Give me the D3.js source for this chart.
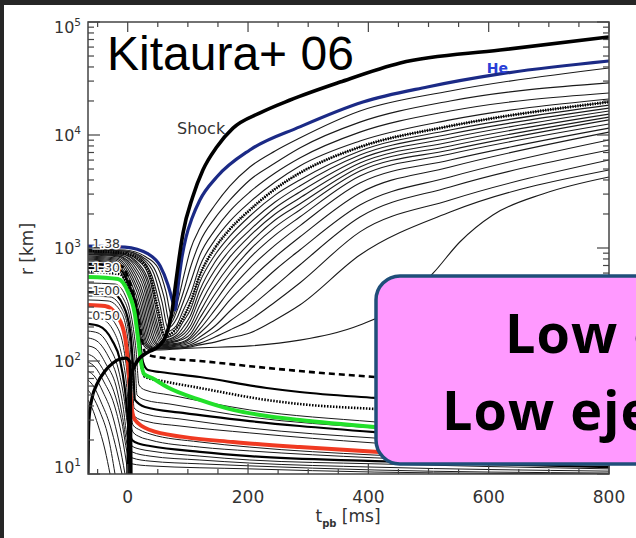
<!DOCTYPE html>
<html>
<head>
<meta charset="utf-8">
<script src="https://cdn.jsdelivr.net/npm/d3@7"></script>
<style>
  html, body { margin: 0; padding: 0; background: #262626; }
  svg { display: block; }
</style>
</head>
<body>
<svg id="chart" width="636" height="538"></svg>
<script>
// ---- data: t_pb [ms], r [km] ----
var shockTrack = [[0.5,10],[2,30],[4,68],[15,98],[34,120],[50,133],[64,170],[74,283],[79,452],[85,783],[92,1360],[108,2830],[125,4900],[148,7830],[175,11500],[220,15700],[270,20400],[353,29400],[453,43400],[619,56500],[800,73700]];
var heShell = [[-66,1040],[-4.5,1020],[34,885],[54,693],[67,471],[75,333],[79,283],[84,471],[90,816],[97,1250],[107,1840],[120,2660],[148,4250],[203,7370],[286,11800],[391,19600],[498,26600],[619,34700],[800,45200]];
var archTrack = [[-66,10],[-65.5,18],[-64.3,31],[-59.3,47],[-51,62.6],[-37.7,81.5],[-24.4,96],[-12.8,104],[-2.8,106],[3.8,98],[4.7,45],[5.5,10]];

// ejected shells: infall part, then radius at the common fanT times
var fanT = [104,120,145,170,203,245,286,386,536,800];
var ejectInfall = [
  [[-66,980],[-4.5,960],[30.4,833],[50.4,665],[63.7,408],[73.6,240],[83.6,347],[93.6,577]],
  [[-66,970],[-4.5,940],[27.1,816],[47,613],[60.3,369],[70.3,213],[83.6,294],[93.6,425]],
  [[-66,960],[-6.2,940],[25.4,799],[43.7,589],[57,333],[67,196],[81.9,240],[93.6,347]],
  [[-66,950],[-6.2,922],[23.8,783],[40.4,565],[53.7,307],[63.7,181],[80.3,204],[91.9,277]],
  [[-66,940],[-7.8,903],[22.1,767],[38.7,543],[50.4,283],[62,166],[78.6,188],[91.9,240]],
  [[-66,931],[-9.5,903],[20.4,752],[37.1,521],[48.7,261],[60.3,160],[80.3,177],[91.9,221]],
  [[-66,922],[-9.5,885],[18.8,722],[35.4,490],[47,240],[58.7,153],[81.9,170],[93.6,204]],
  [[-66,912],[-11.1,885],[17.1,707],[33.7,471],[45.4,226],[57,150],[83.6,166]],
  [[-66,903],[-12.8,867],[15.5,693],[32.1,443],[43.7,213],[55.4,147],[83.6,160]],
  [[-66,894],[-12.8,867],[13.8,665],[30.4,425],[42.1,200],[53.7,144],[83.6,153]],
  [[-66,885],[-14.5,850],[12.1,639],[28.8,400],[40.4,188],[52,141],[83.6,150]],
  [[-66,876],[-16.1,850],[10.5,613],[27.1,376],[38.7,177],[50.4,139],[83.6,144]],
  [[-66,867],[-16.1,833],[8.8,589],[25.4,354],[37.1,166],[48.7,136],[83.6,141]],
  [[-66,850],[-17.8,816],[7.1,565],[23.8,333],[35.4,157],[47,133],[83.6,139]],
  [[-66,833],[-19.4,799],[5.5,543],[22.1,313],[33.7,150],[45.4,130],[83.6,136]],
  [[-66,816],[-21.1,783],[3.8,521],[20.4,294],[32.1,144],[43.7,130],[83.6,133]],
  [[-66,799],[-22.8,767],[2.2,500],[18.8,277],[30.4,141],[42.1,128],[83.6,130]],
  [[-66,783],[-24.4,752],[0.5,480],[17.1,261],[28.8,139],[40.4,128],[83.6,130]]
];
var ejectRise = [
  [960,1500,2400,3540,5210,7220,9400,16300,24500,39200],
  [665,1130,1840,2660,4000,5650,7670,13000,20000,28900],
  [490,867,1440,2130,3130,4610,6260,10600,16300,23500],
  [384,693,1180,1730,2550,3840,5320,8850,13600,20800],
  [326,577,1000,1470,2170,3330,4610,7830,12000,19600],
  [283,500,867,1280,1920,2940,4000,7220,11070,18400],
  [250,425,752,1110,1660,2550,3540,6650,10200,17300],
  [226,369,639,960,1440,2260,3130,6130,9400,16300],
  [204,313,543,833,1280,2000,2770,5650,8670,15300],
  [188,271,461,707,1110,1770,2450,5210,7990,14400],
  [173,240,392,601,960,1530,2170,4800,7370,13600],
  [163,213,333,511,816,1300,1880,4340,6790,12500],
  [157,192,283,425,665,1060,1570,3760,6010,11500],
  [150,177,240,347,521,833,1250,3070,5210,10600],
  [144,163,204,277,400,639,960,2400,4250,9030],
  [139,153,181,226,301,461,707,1880,3470,7370],
  [136,144,163,188,231,333,490,1390,2660,6010],
  [133,139,147,160,177,231,313,867,2080,4900]
];
var dottedEject = 4;
var lateShell = [[-66,767],[-26.1,737],[-1.2,461],[15.5,245],[27.1,136],[38.7,125],[83.6,128],[104,130],[203,136],[286,153],[386,208],[453,313],[508,601],[552,1130],[607,1960],[690,3010],[800,4250]];

// shells that stall below the shock
var dashShell = [[-66,722],[-11.1,693],[5.5,461],[17.1,266],[23.8,153],[30.4,115],[62,106],[120,100],[203,90],[286,81.5],[411,72.2],[800,55.4]];
var thickShell = [[-66,665],[-12.8,639],[3.8,443],[15.5,271],[20.4,153],[25.4,98],[33.7,83.2],[53.7,79.9],[120,72.2],[231,57.7],[286,53.2],[411,47.1],[800,35.4]];
var dotShell = [[-66,613],[-14.5,589],[2.2,425],[12.1,255],[17.1,153],[22.1,94],[28.8,72.2],[57,66.6],[120,57.7],[231,45.2],[286,41.6],[411,37.6],[800,30.1]];
var greenShell = [[-66,554],[-16.1,532],[0.5,408],[12.1,255],[17.1,160],[22.1,98],[27.1,76.7],[40.4,70.7],[65.3,58.9],[120,45.2],[175,36.9],[231,32.6],[286,30.1],[411,26.1],[800,20]];
var settleShells = [
  [[-66,490],[-21.1,480],[-4.5,384],[7.1,231],[13.8,125],[18.8,61.3],[28.8,55.4],[70.3,50],[203,36.9],[411,28.9],[800,21.7]],
  [[-66,443],[-24.4,434],[-6.2,347],[5.5,208],[12.1,102],[15.5,50],[28.8,45.2],[70.3,41.6],[203,31.9],[411,25.5],[800,19.6]],
  [[-66,376],[-29.4,369],[-9.5,289],[2.2,170],[7.1,83.2],[10.5,38.4],[28.8,34],[86.9,30.7],[203,25.5],[411,20.8],[800,16.6]],
  [[-66,347],[-32.7,340],[-11.1,271],[0.5,153],[5.5,67.9],[8.8,33.3],[28.8,29.4],[86.9,26.6],[203,23.1],[411,18.8],[800,15.3]]
];
var settleThick = [[-66,408],[-26.1,400],[-7.8,313],[3.8,188],[8.8,92],[12.1,45.2],[28.8,39.2],[91.9,34.7],[203,29.4],[286,26.6],[411,23.5],[800,18.1]];
var redShell = [[-66,313],[-37.7,307],[-16.1,245],[-4.5,163],[0.5,96],[3.8,55.4],[7.1,36.9],[12.1,30.1],[37.1,24.5],[91.9,21.3],[175,19.2],[286,17.3],[411,15.7],[800,13]];
var accreteShells = [
  [[-66,271],[-41.1,266],[-19.4,208],[-7.8,139],[-1.2,79.9],[3.8,40.8],[8.8,27.1],[20.4,24.5],[37.1,22.6],[120,19.2],[203,17.3],[411,14.7],[800,12.5]],
  [[-66,240],[-44.4,235],[-22.8,181],[-11.1,120],[-2.8,67.9],[2.2,35.4],[8.8,23.5],[20.4,21.3],[37.1,20],[120,17.3],[203,16],[411,13.9],[800,12]],
  [[-66,213],[-47.7,204],[-26.1,153],[-12.8,102],[-4.5,55.4],[0.5,30.1],[7.1,20],[20.4,18.4],[37.1,17.7],[120,15.7],[203,14.4],[411,13],[800,11.5]],
  [[-66,184],[-49.4,177],[-29.4,130],[-16.1,86.7],[-6.2,47.1],[0.5,25.5],[7.1,17.7],[20.4,16.6],[37.1,16],[120,14.4],[203,13.3],[411,12.3],[800,11.1]],
  [[-66,160],[-51,150],[-32.7,111],[-17.8,72.2],[-7.8,40],[-1.2,21.7],[7.1,15.7],[37.1,14.4],[120,13.3],[203,12.5],[411,11.5],[800,10.6]],
  [[-66,136],[-52.7,128],[-36.1,94],[-19.4,60.1],[-9.5,34],[-1.2,18.4],[7.1,13.9],[37.1,13],[120,12.3],[203,11.8],[411,10.85],[800,10.2]],
  [[-66,115],[-54.4,106],[-37.7,78.3],[-21.1,50],[-9.5,28.3],[-1.2,15.7],[7.1,12.3],[37.1,11.8],[203,11.1],[411,10.4],[800,10]],
  [[-66,98],[-54.4,88.5],[-39.4,65.2],[-22.8,41.6],[-11.1,23.5],[-2.8,13.3],[0.5,10]],
  [[-66,81.5],[-54.4,72.2],[-41.1,53.2],[-26.1,34],[-14.5,19.2],[-4.5,10]],
  [[-66,67.9],[-56,58.9],[-44.4,43.4],[-29.4,27.1],[-17.8,15.7],[-9.5,10]],
  [[-66,55.4],[-57.7,48],[-46,35.4],[-32.7,21.7],[-21.1,10]],
  [[-66,45.2],[-59.3,38.4],[-49.4,27.1],[-37.7,16.3],[-29.4,10]]
];
var accreteThick = 2;

var massLabels = ['1.38', '1.30', '1.00', '0.50'];
var massLabelR = [1000, 613, 384, 231];
var xMajor = [0, 200, 400, 600, 800];
var yMajor = [1e1, 1e2, 1e3, 1e4, 1e5];
var yExp = ['1', '2', '3', '4', '5'];
var boxLines = ['Low energy', 'Low ejecta mass'];

// ---- chart ----
var W = 636, H = 538;
var x = d3.scaleLinear().domain([-66, 800]).range([88, 609]);
var y = d3.scaleLog().domain([10, 1e5]).range([474, 22]);
var svg = d3.select('#chart');

svg.append('rect').attr('x', 4).attr('y', 5).attr('width', W - 4).attr('height', H - 5).attr('fill', '#fff');
var defs = svg.append('defs');
defs.append('clipPath').attr('id', 'plot')
  .append('rect').attr('x', 88).attr('y', 22).attr('width', 521).attr('height', 452);
defs.append('clipPath').attr('id', 'page')
  .append('rect').attr('x', 0).attr('y', 0).attr('width', W).attr('height', H);

var g = svg.append('g').attr('clip-path', 'url(#plot)');
var line = d3.line().x(function(d){ return x(d[0]); }).y(function(d){ return y(d[1]); }).curve(d3.curveMonotoneX);

function draw(pts, stroke, width, dash) {
  return g.append('path').attr('d', line(pts)).attr('fill', 'none')
    .attr('stroke', stroke).attr('stroke-width', width)
    .attr('stroke-dasharray', dash || null)
    .attr('stroke-linejoin', 'round');
}

var ejectPaths = ejectInfall.map(function(inf, i){
  return inf.concat(fanT.map(function(t, j){ return [t, ejectRise[i][j]]; }));
});

accreteShells.forEach(function(s, i){ if (i !== accreteThick) draw(s, '#1a1a1a', 1); });
settleShells.forEach(function(s){ draw(s, '#1a1a1a', 1); });
ejectPaths.forEach(function(s, i){ if (i !== dottedEject) draw(s, '#1a1a1a', 1.1); });
draw(lateShell, '#1a1a1a', 1.1);

draw(accreteShells[accreteThick], '#000', 2.2);
draw(settleThick, '#000', 2.2);
draw(thickShell, '#000', 2.2);
draw(dashShell, '#000', 2.6, '6,4');
draw(dotShell, '#000', 2.6, '1.5,1.5');
draw(ejectPaths[dottedEject], '#1a1a1a', 1);
draw(ejectPaths[dottedEject], '#000', 3, '1.2,1.3');
draw(redShell, '#f03a22', 4);
draw(greenShell, '#22e02a', 4);
draw(heShell, '#1b2a86', 3.2);
draw(archTrack, '#000', 3.2);
draw(shockTrack, '#000', 3.6);

// labels inside the plot
var lab = svg.append('g').attr('font-family', 'DejaVu Sans, sans-serif');
massLabels.forEach(function(s, i){
  lab.append('text').attr('x', x(-59)).attr('y', y(massLabelR[i]))
    .attr('font-size', 12.5).attr('fill', '#333')
    .attr('stroke', '#fff').attr('stroke-width', 3).attr('paint-order', 'stroke')
    .text(s);
});
lab.append('text').attr('x', x(82)).attr('y', y(10200)).attr('font-size', 16).attr('fill', '#333').text('Shock');
lab.append('text').attr('x', x(597)).attr('y', y(35400)).attr('font-size', 14).attr('font-weight', 'bold')
  .attr('fill', '#2a3fd6').text('He');

// axes
var ax = svg.append('g').attr('stroke', '#444').attr('stroke-width', 1.2);
var xMinor = d3.range(-50, 801, 50);
xMinor.forEach(function(t){
  var len = xMajor.indexOf(t) >= 0 ? 10 : 5;
  ax.append('line').attr('x1', x(t)).attr('x2', x(t)).attr('y1', 474).attr('y2', 474 - len);
  ax.append('line').attr('x1', x(t)).attr('x2', x(t)).attr('y1', 22).attr('y2', 22 + len);
});
yMajor.forEach(function(v, k){
  var mult = k < yMajor.length - 1 ? [1,2,3,4,5,6,7,8,9] : [1];
  mult.forEach(function(m){
    var yy = y(v * m), len = m === 1 ? 12 : 6;
    ax.append('line').attr('x1', 88).attr('x2', 88 + len).attr('y1', yy).attr('y2', yy);
    ax.append('line').attr('x1', 609).attr('x2', 609 - len).attr('y1', yy).attr('y2', yy);
  });
});
svg.append('rect').attr('x', 88).attr('y', 22).attr('width', 521).attr('height', 452)
  .attr('fill', 'none').attr('stroke', '#444').attr('stroke-width', 1.5);

var tl = svg.append('g').attr('font-family', 'DejaVu Sans, sans-serif').attr('fill', '#333');
xMajor.forEach(function(t){
  tl.append('text').attr('x', x(t)).attr('y', 503).attr('text-anchor', 'middle').attr('font-size', 17).text(t);
});
yMajor.forEach(function(v, k){
  var yy = Math.min(Math.max(y(v) + 6, 33), 473);
  var t = tl.append('text').attr('x', 81).attr('y', yy).attr('text-anchor', 'end').attr('font-size', 16);
  t.append('tspan').text('10');
  t.append('tspan').attr('font-size', 10.5).attr('dy', -7).text(yExp[k]);
});
var xt = tl.append('text').attr('x', 348).attr('y', 522).attr('text-anchor', 'middle').attr('font-size', 17);
xt.append('tspan').text('t');
xt.append('tspan').attr('font-size', 10).attr('font-weight', 'bold').attr('dy', 5).text('pb');
xt.append('tspan').attr('dy', -5).text(' [ms]');
tl.append('text').attr('transform', 'translate(33,249) rotate(-90)').attr('text-anchor', 'middle')
  .attr('font-size', 17).text('r [km]');

// title
svg.append('text').attr('x', 107).attr('y', 70).attr('font-family', 'Liberation Sans, Arial, sans-serif')
  .attr('font-size', 48).attr('fill', '#000').text('Kitaura+ 06');

// callout box, running off the right edge as in the slide
var box = svg.append('g').attr('clip-path', 'url(#page)');
box.append('rect').attr('x', 376).attr('y', 276).attr('width', 300).attr('height', 188).attr('rx', 24)
  .attr('fill', '#ff99ff').attr('stroke', '#1f4e79').attr('stroke-width', 3.5);
var bt = box.append('g').attr('font-family', 'Open Sans, sans-serif').attr('font-weight', 'bold')
  .attr('font-size', 54).attr('letter-spacing', 1).attr('fill', '#000');
bt.append('text').attr('x', 505).attr('y', 353).text(boxLines[0]);
bt.append('text').attr('x', 442).attr('y', 430).text(boxLines[1]);
</script>
</body>
</html>
